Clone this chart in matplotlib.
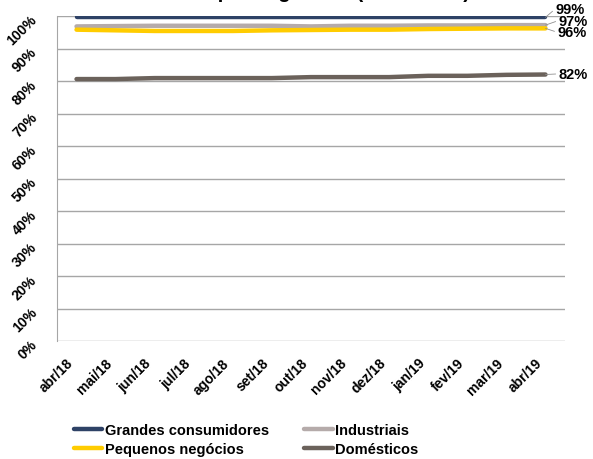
import matplotlib
matplotlib.use("Agg")
import matplotlib.pyplot as plt
from matplotlib.transforms import ScaledTranslation

plt.rcParams.update({"font.family": "Liberation Sans", "font.weight": "bold"})

months = ["abr/18", "mai/18", "jun/18", "jul/18", "ago/18", "set/18", "out/18",
          "nov/18", "dez/18", "jan/19", "fev/19", "mar/19", "abr/19"]
grandes = [99.6] * 13
industriais = [96.8, 96.9, 97.0, 97.0, 97.0, 97.0, 96.8, 97.0, 97.0, 97.1, 97.1, 97.2, 97.2]
pequenos = [95.8, 95.6, 95.4, 95.4, 95.4, 95.6, 95.7, 95.8, 95.8, 96.0, 96.1, 96.2, 96.2]
domesticos = [80.6, 80.6, 80.9, 80.9, 80.9, 80.9, 81.2, 81.2, 81.2, 81.6, 81.6, 81.9, 82.0]

series = [
    ("Grandes consumidores", grandes, "#2E4266", "99%"),
    ("Industriais", industriais, "#B5ABAA", "97%"),
    ("Pequenos negócios", pequenos, "#FFCC00", "96%"),
    ("Domésticos", domesticos, "#6B625B", "82%"),
]

fig = plt.figure(figsize=(5.93, 4.6), dpi=100)
ax = fig.add_axes([0.0961, 0.2565, 0.8567, 0.7065])

x = list(range(len(months)))
lines = {}
for name, vals, col, lab in series:
    lines[name], = ax.plot(x, vals, color=col, lw=3.2, solid_capstyle="round", label=name)

# data labels on the right, with thin leader lines
label_y = {"99%": 102.2, "97%": 98.6, "96%": 95.0, "82%": 82.2}
label_x = {"99%": 13.0, "97%": 13.08, "96%": 13.05, "82%": 13.08}
for name, vals, col, lab in series:
    ax.annotate(lab, xy=(12, vals[-1]), xytext=(label_x[lab], label_y[lab]),
                ha="right", va="center", fontsize=10.5, fontweight="bold",
                annotation_clip=False,
                arrowprops=dict(arrowstyle="-", color="#909090", lw=0.6,
                                shrinkA=0, shrinkB=0, relpos=(0, 0.5)))

ax.set_xlim(-0.5, 12.5)
ax.set_ylim(0, 100)
ax.set_yticks(range(0, 101, 10))
ax.set_yticklabels([f"{v}%" for v in range(0, 101, 10)], rotation=45,
                   rotation_mode="anchor", ha="right", va="center",
                   fontsize=10, fontweight="bold")
ax.set_xticks(x)
ax.set_xticklabels(months, rotation=45, ha="right", va="center",
                   rotation_mode="anchor", fontsize=10, fontweight="bold")
ax.tick_params(length=0)
ax.tick_params(axis="y", pad=16)
ax.tick_params(axis="x", pad=14)
for t in ax.get_yticklabels():
    t.set_transform(t.get_transform() + ScaledTranslation(0, -1 / 72, fig.dpi_scale_trans))
for t in ax.get_xticklabels():
    t.set_transform(t.get_transform() + ScaledTranslation(-4 / 72, 0, fig.dpi_scale_trans))
ax.grid(axis="y", color="#A6A6A6", lw=1)
ax.set_axisbelow(True)
for s in ["top", "right", "bottom"]:
    ax.spines[s].set_visible(False)
ax.spines["left"].set_color("#A6A6A6")

# title sits mostly above the top edge, as in the source image
fig.text(0.494, 1.004, "Cobertura por segmento (nº clientes)", ha="center",
         va="baseline", fontsize=14.5, fontweight="bold")

fig.legend(handles=[lines["Grandes consumidores"], lines["Pequenos negócios"],
                    lines["Industriais"], lines["Domésticos"]],
           loc="lower left", bbox_to_anchor=(0.11, -0.012), ncol=2, frameon=False,
           fontsize=10.5, handlelength=1.95, handletextpad=0.15, labelspacing=0.3,
           columnspacing=2.45, borderaxespad=0.2)

fig.savefig("out.png", dpi=100)
